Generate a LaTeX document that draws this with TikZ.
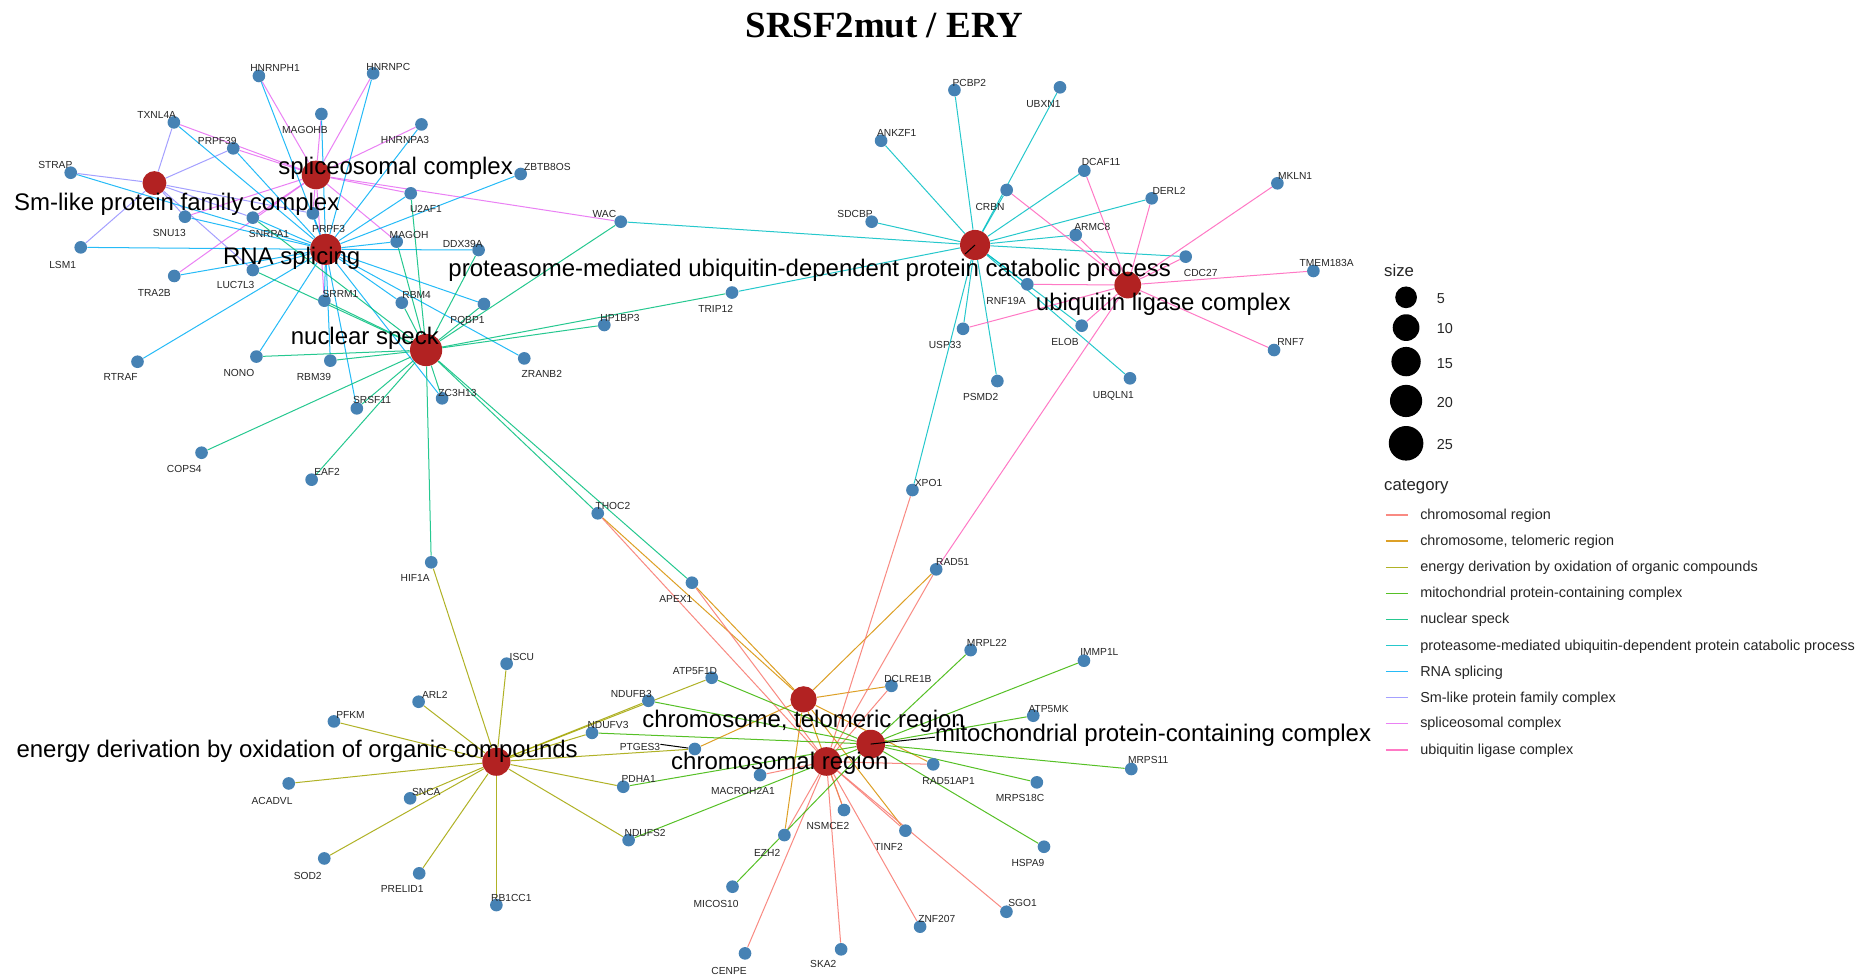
\documentclass[tikz,border=0pt]{standalone}
\usepackage{fontspec}
\setmainfont{Liberation Sans}
\newfontfamily\titleserif{Liberation Serif}
\pgfdeclarelayer{bglayer}
\pgfdeclarelayer{edgelayer}
\pgfsetlayers{bglayer,edgelayer,main}

% category colours (ggplot hue palette)
\definecolor{cCR}{HTML}{F8766D}
\definecolor{cTEL}{HTML}{D89000}
\definecolor{cEN}{HTML}{A3A500}
\definecolor{cMITO}{HTML}{39B600}
\definecolor{cNS}{HTML}{00BF7D}
\definecolor{cPROT}{HTML}{00BFC4}
\definecolor{cRNA}{HTML}{00B0F6}
\definecolor{cSM}{HTML}{9590FF}
\definecolor{cSPL}{HTML}{E76BF3}
\definecolor{cUBL}{HTML}{FF62BC}
\definecolor{hubred}{HTML}{B22222}
\definecolor{genedot}{HTML}{4682B4}

\tikzset{
  gdot/.style={circle, fill=genedot, draw=none, inner sep=0pt, minimum size=0.265cm},
  hubnode/.style={circle, fill=hubred, draw=none, inner sep=0pt, minimum size=#1},
  glab/.style={font=\fontsize{6.1}{7}\selectfont, inner sep=0pt, text height=0.72em, text depth=0pt, text=black!85},
  clab/.style={font=\fontsize{14.3}{16}\selectfont, inner sep=0pt, text height=0.72em, text depth=0.2em, yshift=-2.3pt},
  link/.style={line width=0.6pt, opacity=0.85},
  leader/.style={draw=black, line width=0.6pt},
  legtext/.style={font=\fontsize{8.6}{10}\selectfont, inner sep=0pt, anchor=west, text=black!85},
  legtitle/.style={font=\fontsize{10}{12}\selectfont, inner sep=0pt, anchor=west, text=black!85},
  legkey/.style={line width=0.8pt, opacity=0.85},
  sizedot/.style={circle, fill=black, draw=none, inner sep=0pt, minimum size=#1},
}

% gene: id, x, y, label x, label y, text
\newcommand\genenode[6]{%
  \node[gdot] (#1) at (#2,#3) {};
  \node[glab] (#1-l) at (#4,#5) {#6};}

\begin{document}
\begin{tikzpicture}[x=0.025cm, y=-0.025cm]
\useasboundingbox (0,0) rectangle (1568,817);
\begin{pgfonlayer}{bglayer}
\fill[white] (0,0) rectangle (1568,817);
\end{pgfonlayer}

% title
\node[font=\titleserif\bfseries\fontsize{22}{26}\selectfont, anchor=base, inner sep=0pt] (title) at (741.5,31.5) {SRSF2mut / ERY};

% ---------- genes ----------
\genenode{hnrnph1}{217.1}{63.7}{230.6}{55.3}{HNRNPH1}
\genenode{hnrnpc}{312.9}{61.5}{325.6}{54.2}{HNRNPC}
\genenode{txnl4a}{145.8}{102.6}{131.4}{94.5}{TXNL4A}
\genenode{magohb}{269.5}{95.6}{255.7}{106.8}{MAGOHB}
\genenode{hnrnpa3}{353.4}{104.3}{339.6}{115.4}{HNRNPA3}
\genenode{prpf39}{195.6}{124.4}{182.2}{116}{PRPF39}
\genenode{strap}{59.3}{144.8}{46.4}{136.5}{STRAP}
\genenode{zbtb8os}{436.6}{145.9}{459}{138}{ZBTB8OS}
\genenode{u2af1}{344.4}{162.1}{357.2}{173.3}{U2AF1}
\genenode{snu13}{155.1}{181.7}{142}{192.9}{SNU13}
\genenode{snrpa1}{212}{182.5}{225.6}{194.2}{SNRPA1}
\genenode{prpf3}{262.3}{178.9}{275.6}{189.5}{PRPF3}
\genenode{magoh}{332.6}{202.6}{343}{195}{MAGOH}
\genenode{ddx39a}{401.3}{209.6}{388}{202.1}{DDX39A}
\genenode{lsm1}{67.7}{207.4}{52.5}{219.7}{LSM1}
\genenode{luc7l3}{212}{226.4}{197.6}{237}{LUC7L3}
\genenode{tra2b}{146.1}{231.4}{129.4}{243.2}{TRA2B}
\genenode{srrm1}{272}{252.1}{285.5}{244}{SRRM1}
\genenode{rbm4}{336.9}{253.8}{349.4}{245.1}{RBM4}
\genenode{pqbp1}{405.8}{254.9}{392}{266.1}{PQBP1}
\genenode{rtraf}{115.3}{303.3}{101.2}{313.9}{RTRAF}
\genenode{nono}{215}{299}{200.3}{310.8}{NONO}
\genenode{rbm39}{277}{302.4}{263.2}{313.6}{RBM39}
\genenode{zranb2}{439.6}{300.5}{454.3}{311.6}{ZRANB2}
\genenode{zc3h13}{370.7}{334}{383.6}{327.3}{ZC3H13}
\genenode{srsf11}{299.2}{342.4}{312}{333.4}{SRSF11}
\genenode{hp1bp3}{506.7}{272.5}{519.9}{264.1}{HP1BP3}
\genenode{trip12}{613.8}{245.3}{600.1}{256.6}{TRIP12}
\genenode{cops4}{169}{379.6}{154.5}{391.5}{COPS4}
\genenode{eaf2}{261.3}{402.2}{274.3}{393.5}{EAF2}
\genenode{thoc2}{501.2}{430.4}{513.9}{422.1}{THOC2}
\genenode{hif1a}{361.6}{471.5}{348.1}{482.4}{HIF1A}
\genenode{apex1}{580.2}{488.6}{566.7}{500.3}{APEX1}
\genenode{xpo1}{765.1}{410.9}{778.6}{402.5}{XPO1}
\genenode{rad51}{785}{477.4}{798.8}{469}{RAD51}
\genenode{wac}{520.5}{185.9}{506.8}{176.9}{WAC}
\genenode{pcbp2}{800.3}{75.5}{812.8}{67.6}{PCBP2}
\genenode{ubxn1}{888.8}{73.2}{874.9}{84.7}{UBXN1}
\genenode{ankzf1}{738.8}{118}{751.9}{109.6}{ANKZF1}
\genenode{dcaf11}{909.2}{143.1}{923.2}{133.6}{DCAF11}
\genenode{derl2}{965.7}{166.3}{980.2}{157.9}{DERL2}
\genenode{mkln1}{1071.1}{153.7}{1085.9}{145.3}{MKLN1}
\genenode{crbn}{844.1}{159.3}{830.2}{171.3}{CRBN}
\genenode{sdcbp}{730.9}{185.9}{717}{177.5}{SDCBP}
\genenode{armc8}{902}{197}{915.9}{187.8}{ARMC8}
\genenode{cdc27}{994.2}{215.2}{1006.8}{226.4}{CDC27}
\genenode{tmem183a}{1101.3}{227.2}{1112.4}{218}{TMEM183A}
\genenode{rnf19a}{861.4}{238.4}{843.6}{250.2}{RNF19A}
\genenode{usp33}{807.5}{275.7}{792.4}{287.3}{USP33}
\genenode{elob}{907}{273.1}{893}{284.5}{ELOB}
\genenode{rnf7}{1068.3}{293.5}{1082.2}{284.5}{RNF7}
\genenode{psmd2}{836.3}{319.5}{822.3}{330.4}{PSMD2}
\genenode{ubqln1}{947.5}{317.2}{933.6}{329}{UBQLN1}
\genenode{iscu}{424.8}{556.5}{437.6}{548.4}{ISCU}
\genenode{arl2}{351}{588.4}{364.6}{580.6}{ARL2}
\genenode{pfkm}{280}{604.9}{293.9}{597}{PFKM}
\genenode{atp5f1d}{596.8}{568.3}{582.8}{560.4}{ATP5F1D}
\genenode{ndufb3}{543.7}{587.6}{529.3}{579.4}{NDUFB3}
\genenode{ndufv3}{496.4}{614.5}{509.8}{606}{NDUFV3}
\genenode{ptges3}{582.6}{628}{536.6}{624.1}{PTGES3}
\genenode{dclre1b}{747.5}{575.1}{761.3}{566.9}{DCLRE1B}
\genenode{mrpl22}{813.9}{545.1}{827.5}{536.7}{MRPL22}
\genenode{immp1l}{908.9}{554}{921.8}{544.5}{IMMP1L}
\genenode{atp5mk}{866.4}{600.1}{879.3}{592}{ATP5MK}
\genenode{mrps11}{948.6}{644.8}{962.7}{635.3}{MRPS11}
\genenode{rad51ap1}{782.5}{640.9}{795.4}{652.7}{RAD51AP1}
\genenode{mrps18c}{869.4}{656}{855.3}{666.6}{MRPS18C}
\genenode{pdha1}{522.6}{659.7}{535.5}{651.3}{PDHA1}
\genenode{macroh2a1}{637.3}{649.9}{622.9}{661}{MACROH2A1}
\genenode{nsmce2}{707.7}{679.2}{694.2}{690.4}{NSMCE2}
\genenode{tinf2}{759.2}{696.5}{745.1}{707.7}{TINF2}
\genenode{ezh2}{657.7}{700.2}{643.3}{712.8}{EZH2}
\genenode{ndufs2}{527.1}{704.4}{540.9}{696}{NDUFS2}
\genenode{hspa9}{875.4}{710}{861.9}{721.1}{HSPA9}
\genenode{micos10}{614.2}{743.5}{600.5}{756.1}{MICOS10}
\genenode{sgo1}{843.9}{764.5}{857.4}{754.7}{SGO1}
\genenode{znf207}{771.5}{777}{785.5}{768.1}{ZNF207}
\genenode{ska2}{705.3}{796}{690.3}{806.4}{SKA2}
\genenode{cenpe}{624.7}{799.4}{611.3}{812}{CENPE}
\genenode{acadvl}{242.1}{656.9}{228.1}{669.4}{ACADVL}
\genenode{snca}{343.9}{669.4}{357.5}{661.6}{SNCA}
\genenode{sod2}{271.9}{719.8}{258}{732.3}{SOD2}
\genenode{prelid1}{351.5}{732.3}{337.2}{743.5}{PRELID1}
\genenode{rb1cc1}{416.2}{758.9}{428.8}{750.5}{RB1CC1}

% ---------- category hubs ----------
\node[hubnode=0.5cm]   (sm)   at (129.5,153.5) {};
\node[hubnode=0.6cm]   (spl)  at (265,146.7) {};
\node[hubnode=0.65cm]  (rna)  at (273.1,209.1) {};
\node[hubnode=0.675cm] (ns)   at (357.3,293.5) {};
\node[hubnode=0.63cm]  (prot) at (817.6,205.4) {};
\node[hubnode=0.56cm]  (ubl)  at (945.6,239) {};
\node[hubnode=0.55cm]  (tel)  at (673.8,586.4) {};
\node[hubnode=0.6cm]   (chr)  at (693,638.5) {};
\node[hubnode=0.6cm]   (mito) at (730.1,623.9) {};
\node[hubnode=0.59cm]  (en)   at (416.2,638.7) {};

% ---------- connectors ----------
\begin{pgfonlayer}{edgelayer}
\foreach \g in {txnl4a,prpf39,strap,lsm1,snu13,snrpa1,prpf3,luc7l3}
  \draw[link, cSM] (sm) -- (\g);
\foreach \g in {hnrnph1,hnrnpc,magohb,hnrnpa3,txnl4a,prpf39,u2af1,wac,magoh,tra2b,snu13,snrpa1,prpf3,srrm1}
  \draw[link, cSPL] (spl) -- (\g);
\foreach \g in {hnrnph1,hnrnpc,magohb,hnrnpa3,txnl4a,prpf39,strap,lsm1,snu13,snrpa1,prpf3,tra2b,luc7l3,rtraf,nono,rbm39,srrm1,rbm4,pqbp1,zranb2,srsf11,zc3h13,ddx39a,magoh,u2af1,zbtb8os}
  \draw[link, cRNA] (rna) -- (\g);
\foreach \g in {hif1a,thoc2,apex1,zc3h13,eaf2,cops4,srsf11,rbm39,nono,hp1bp3,trip12,wac,pqbp1,srrm1,rbm4,magoh,u2af1,luc7l3,snrpa1,ddx39a}
  \draw[link, cNS] (ns) -- (\g);
\foreach \g in {pcbp2,ankzf1,crbn,ubxn1,sdcbp,wac,trip12,dcaf11,derl2,armc8,cdc27,rnf19a,elob,ubqln1,usp33,psmd2,xpo1}
  \draw[link, cPROT] (prot) -- (\g);
\foreach \g in {crbn,dcaf11,derl2,mkln1,armc8,cdc27,tmem183a,rnf7,rnf19a,elob,usp33,rad51}
  \draw[link, cUBL] (ubl) -- (\g);
\foreach \g in {thoc2,apex1,rad51,dclre1b,ptges3,tinf2,nsmce2,ezh2,rad51ap1}
  \draw[link, cTEL] (tel) -- (\g);
\foreach \g in {thoc2,apex1,rad51,dclre1b,xpo1,macroh2a1,cenpe,ska2,znf207,sgo1,ezh2,nsmce2,tinf2,rad51ap1}
  \draw[link, cCR] (chr) -- (\g);
\foreach \g in {atp5f1d,ndufb3,ndufv3,pdha1,ndufs2,mrpl22,immp1l,atp5mk,mrps11,mrps18c,hspa9,micos10}
  \draw[link, cMITO] (mito) -- (\g);
\foreach \g in {hif1a,iscu,arl2,pfkm,acadvl,snca,sod2,prelid1,rb1cc1,ndufv3,ndufb3,atp5f1d,pdha1,ndufs2,ptges3}
  \draw[link, cEN] (en) -- (\g);
\end{pgfonlayer}

% ---------- category labels ----------
\node[clab] (spllab)  at (331.7,139.2) {spliceosomal complex};
\node[clab] (smlab)   at (148.2,169.7) {Sm-like protein family complex};
\node[clab] (rnalab)  at (244.6,215.2) {RNA splicing};
\node[clab] (nslab)   at (305.9,282.3) {nuclear speck};
\node[clab] (protlab) at (679,225) {proteasome-mediated ubiquitin-dependent protein catabolic process};
\node[clab] (ubllab)  at (975.4,253.5) {ubiquitin ligase complex};
\node[clab] (enlab)   at (249.2,628.4) {energy derivation by oxidation of organic compounds};
\node[clab] (tellab)  at (673.8,603.2) {chromosome, telomeric region};
\node[clab] (chrlab)  at (653.9,638.7) {chromosomal region};
\node[clab, anchor=west] (mitolab) at (783.9,614.9) {mitochondrial protein-containing complex};

% label leader segments
\coordinate (protlead) at (809.2,213);
\draw[leader] (prot.center) -- (protlead);
\draw[leader] (mito.center) -- (mitolab.west);
\draw[leader] (ptges3-l.east) -- (ptges3);

% ---------- legend: size ----------
\node[legtitle] (sizetitle) at (1160.4,226.4) {size};
\node[sizedot=0.455cm] (s5)  at (1179,249.3) {};
\node[sizedot=0.56cm]  (s10) at (1179,274.7) {};
\node[sizedot=0.615cm] (s15) at (1179,303.2) {};
\node[sizedot=0.675cm] (s20) at (1179,336.2) {};
\node[sizedot=0.725cm] (s25) at (1179,371.7) {};
\node[legtext] (s5l)  at (1204.6,250.1) {5};
\node[legtext] (s10l) at (1204.6,275.8) {10};
\node[legtext] (s15l) at (1204.6,304.6) {15};
\node[legtext] (s20l) at (1204.6,337.6) {20};
\node[legtext] (s25l) at (1204.6,373.1) {25};

% ---------- legend: category ----------
\node[legtitle] (cattitle) at (1160.4,408.6) {category};
\foreach \yy/\cl/\lab in {
  431.8/cCR/{chromosomal region},
  453.6/cTEL/{chromosome, telomeric region},
  475.7/cEN/{energy derivation by oxidation of organic compounds},
  497.5/cMITO/{mitochondrial protein-containing complex},
  519.3/cNS/{nuclear speck},
  541.4/cPROT/{proteasome-mediated ubiquitin-dependent protein catabolic process},
  563.2/cRNA/{RNA splicing},
  585.0/cSM/{Sm-like protein family complex},
  606.5/cSPL/{spliceosomal complex},
  628.9/cUBL/{ubiquitin ligase complex}}{
  \coordinate (ka) at (1162.1,\yy);
  \coordinate (kb) at (1180.3,\yy);
  \draw[legkey, \cl] (ka) -- (kb);
  \node[legtext] at (1190.6,\yy+0.6) {\lab};
}
\end{tikzpicture}
\end{document}
